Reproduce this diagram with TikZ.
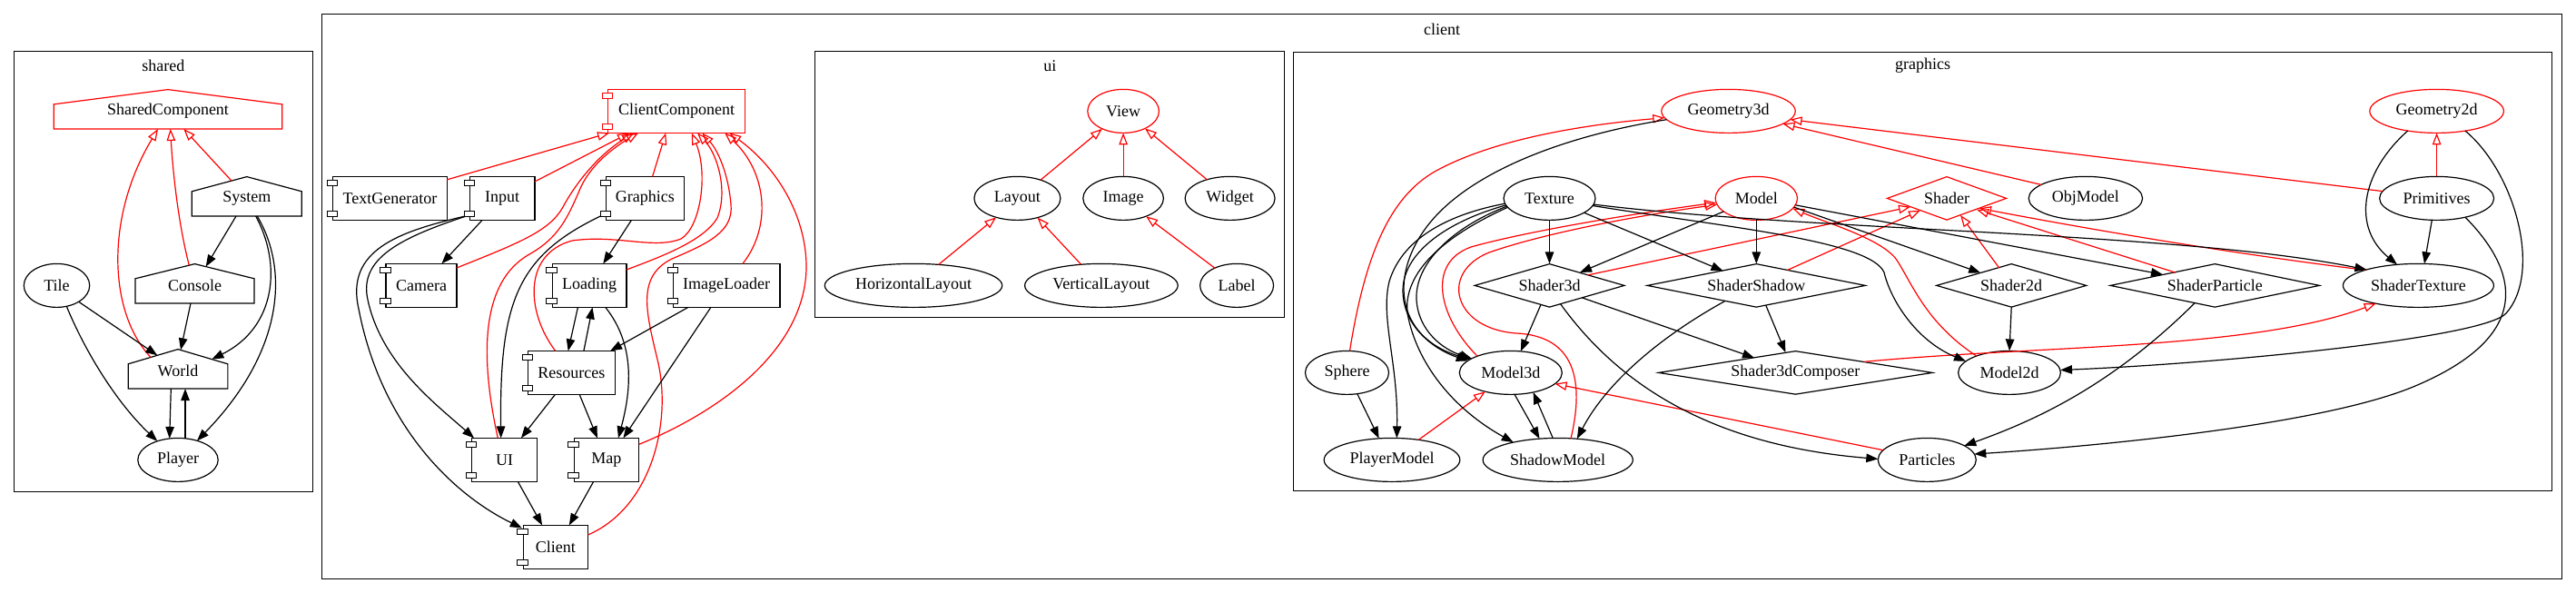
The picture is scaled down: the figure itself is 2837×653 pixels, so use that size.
\documentclass[tikz,border=0pt]{standalone}
\usepackage{fontspec}
\setmainfont{Liberation Serif}
\usetikzlibrary{shapes.geometric,arrows.meta,calc}
\newcommand\comptabs[2][black]{%
  \draw[#1,fill=white,line width=1pt] ([xshift=-5.7pt,yshift=-5pt]#2.north west) rectangle ([xshift=5.7pt,yshift=-10.8pt]#2.north west);%
  \draw[#1,fill=white,line width=1pt] ([xshift=-5.7pt,yshift=5pt]#2.south west) rectangle ([xshift=5.7pt,yshift=10.8pt]#2.south west);}
\newcommand\housedraw[3][black]{%
  \draw[#1,line width=1.2pt] ([xshift=-#3,yshift=-19.6pt]#2.center) -- ([xshift=#3,yshift=-19.6pt]#2.center) -- ([xshift=#3,yshift=7.6pt]#2.center) -- ([yshift=23.8pt]#2.center) -- ([xshift=-#3,yshift=7.6pt]#2.center) -- cycle;}
\begin{document}
\begin{tikzpicture}[x=1pt,y=-1pt,font=\fontsize{18pt}{21pt}\selectfont,
  el/.style={draw,ellipse,line width=1.2pt,inner sep=0pt,minimum height=48pt},
  dia/.style={draw,diamond,line width=1.2pt,inner sep=0pt,minimum height=48pt},
  comp/.style={draw,rectangle,line width=1.2pt,inner sep=0pt,minimum height=48pt},
  hs/.style={inner sep=0pt},
  clus/.style={draw,line width=1.1pt},
  edge/.style={draw=black,line width=1.2pt,-{Triangle[length=13pt,width=9.5pt]}},
  inh/.style={draw=red,line width=1.2pt,-{Triangle[open,length=13pt,width=9.5pt]}}]
\useasboundingbox (0,0) rectangle (2837,653);
% clusters
\draw[clus] (15.5,56.5) rectangle (344.5,541.5);
\node (lshared) at (179.9,72.5) {shared};
\draw[clus] (354.5,15.5) rectangle (2821.5,637.5);
\node (lclient) at (1588,32) {client};
\draw[clus] (897.5,56.5) rectangle (1414.5,349.5);
\node (lui) at (1156.3,72.5) {ui};
\draw[clus] (1424.5,57.5) rectangle (2810.5,540.5);
\node (lgraphics) at (2117.6,72.5) {graphics};

% ---------------- shared
\node[hs] (sc) at (185,122.4) {SharedComponent};
\housedraw[red]{sc}{125.7pt}
\node[hs] (sys) at (271.8,218.4) {System};
\housedraw{sys}{60.5pt}
\node[hs] (con) at (214.5,314.4) {Console};
\housedraw{con}{65.5pt}
\node[hs] (world) at (196,408.4) {World};
\housedraw{world}{54.85pt}
\node[el,minimum width=72.4pt] (tile) at (62.5,314.4) {Tile};
\node[el,minimum width=88.4pt] (player) at (196,506.4) {Player};

\draw[inh] ($(con.center)+(-6.2,-22.3)$) .. controls (196,245) and (190,185) .. ($(sc.center)+(2.7,19.6)$);
\draw[inh] ($(sys.center)+(-16.8,-19.3)$) -- ($(sc.center)+(17.3,19.6)$);
\draw[inh] ($(world.center)+(-30,-15)$) .. controls (120,345) and (115,240) .. ($(sc.center)+(-11,19.6)$);
\draw[edge] ($(sys.center)+(-11.8,19.6)$) -- ($(con.center)+(12.2,-20.8)$);
\draw[edge] ($(sys.center)+(9.9,19.6)$) .. controls (310,290) and (305,360) .. ($(world.center)+(37.3,-12.8)$);
\draw[edge] ($(sys.center)+(11.5,19.6)$) .. controls (320,300) and (310,390) .. ($(player.center)+(21,-21)$);
\draw[edge] ($(con.center)+(-4.5,19.6)$) -- ($(world.center)+(3,-23)$);
\draw[edge] ($(tile.center)+(24.2,17.9)$) -- ($(world.center)+(-22.7,-17.1)$);
\draw[edge] ($(tile.center)+(10.8,22.9)$) .. controls (95,390) and (130,445) .. ($(player.center)+(-22.7,-20.6)$);
\draw[edge] ($(world.center)+(-7.7,19.6)$) -- ($(player.center)+(-9.3,-23.5)$);
\draw[edge] ($(player.center)+(8,-23.6)$) -- ($(world.center)+(8,19.6)$);

% ---------------- client
\node[comp,draw=red,minimum width=150.8pt] (cc) at (745,122.4) {ClientComponent};
\node[comp,minimum width=125.3pt] (tg) at (429.5,218.4) {TextGenerator};
\node[comp,minimum width=71.4pt] (input) at (553.2,218.4) {Input};
\node[comp,minimum width=86.1pt] (graphics) at (710.4,218.4) {Graphics};
\node[comp,minimum width=77.9pt] (camera) at (464,314.4) {Camera};
\node[comp,minimum width=81.8pt] (loading) at (649.1,314.4) {Loading};
\node[comp,minimum width=117.5pt] (imageloader) at (800.2,314.4) {ImageLoader};
\node[comp,minimum width=95.7pt] (resources) at (629.3,410.4) {Resources};
\node[comp,minimum width=72.2pt] (ui) at (555.7,506.4) {UI};
\node[comp,minimum width=71.5pt] (map) at (667.9,506.4) {Map};
\node[comp,minimum width=71.4pt] (client) at (611.8,602.4) {Client};

\draw[inh] ($(tg.center)+(62.6,-20.5)$) -- ($(cc.center)+(-74,24)$);
\draw[inh] ($(input.center)+(35.7,-18.4)$) -- ($(cc.center)+(-52,24)$);
\draw[inh] ($(camera.center)+(39,-19.4)$) .. controls (570,268) and (605,255) .. (620,228) .. controls (635,200) and (660,170) .. ($(cc.center)+(-47,24)$);
\draw[inh] ($(ui.center)+(-7.4,-24)$) .. controls (528,390) and (530,310) .. (583,280) .. controls (615,262) and (625,240) .. (638,210) .. controls (650,180) and (680,160) .. ($(cc.center)+(-42,24)$);
\draw[inh] ($(graphics.center)+(8.2,-24)$) -- ($(cc.center)+(-11.7,24)$);
\draw[inh] ($(loading.center)+(40.9,-17.4)$) .. controls (730,282) and (775,265) .. (790,240) .. controls (802,210) and (790,170) .. ($(cc.center)+(23,24)$);
\draw[inh] ($(resources.center)+(-17.6,-24)$) .. controls (580,345) and (575,280) .. (630,265) .. controls (680,258) and (720,275) .. (750,263) .. controls (772,250) and (780,190) .. ($(cc.center)+(16.7,24)$);
\draw[inh] ($(client.center)+(35.7,-13.4)$) .. controls (715,560) and (740,470) .. (725,400) .. controls (712,345) and (700,305) .. (740,285) .. controls (780,268) and (808,255) .. (805,225) .. controls (802,190) and (790,165) .. ($(cc.center)+(28.3,24)$);
\draw[inh] ($(imageloader.center)+(17.7,-24)$) .. controls (850,250) and (845,190) .. ($(cc.center)+(53.3,24)$);
\draw[inh] ($(map.center)+(35.7,-17)$) .. controls (800,450) and (890,380) .. (888,290) .. controls (886,230) and (850,180) .. ($(cc.center)+(58.3,24)$);

\draw[edge] ($(input.center)+(-22.1,24)$) -- ($(camera.center)+(22.4,-24)$);
\draw[edge] ($(input.center)+(-38,19)$) .. controls (440,262) and (395,285) .. (405,330) .. controls (420,400) and (480,445) .. ($(ui.center)+(-33.6,-24)$);
\draw[edge] ($(input.center)+(-41.8,19.8)$) .. controls (440,255) and (380,275) .. (395,340) .. controls (420,470) and (500,545) .. ($(client.center)+(-37,-21)$);
\draw[edge] ($(graphics.center)+(-15,24)$) -- ($(loading.center)+(15.2,-24)$);
\draw[edge] ($(graphics.center)+(-42.7,16.6)$) .. controls (570,280) and (550,330) .. ($(ui.center)+(-4,-24)$);
\draw[edge] ($(loading.center)+(-12.7,24)$) -- ($(resources.center)+(-3.6,-24)$);
\draw[edge] ($(resources.center)+(13.6,-24)$) -- ($(loading.center)+(3.4,24)$);
\draw[edge] ($(loading.center)+(17.7,24)$) .. controls (700,380) and (695,430) .. ($(map.center)+(13.1,-24)$);
\draw[edge] ($(imageloader.center)+(-42.3,24)$) -- ($(resources.center)+(42.8,-24)$);
\draw[edge] ($(imageloader.center)+(-17.3,24)$) -- ($(map.center)+(18.5,-24)$);
\draw[edge] ($(resources.center)+(-17.9,24)$) -- ($(ui.center)+(18.2,-24)$);
\draw[edge] ($(resources.center)+(8.9,24)$) -- ($(map.center)+(-10,-24)$);
\draw[edge] ($(ui.center)+(14.7,24)$) -- ($(client.center)+(-14.7,-24)$);
\draw[edge] ($(map.center)+(-14.3,24)$) -- ($(client.center)+(15,-24)$);

\comptabs[red]{cc}
\comptabs{tg}
\comptabs{input}
\comptabs{graphics}
\comptabs{camera}
\comptabs{loading}
\comptabs{imageloader}
\comptabs{resources}
\comptabs{ui}
\comptabs{map}
\comptabs{client}

% ---------------- ui
\node[el,draw=red,minimum width=78.6pt] (view) at (1237.1,122.4) {View};
\node[el,minimum width=95pt] (layout) at (1120.4,218.4) {Layout};
\node[el,minimum width=88.6pt] (image) at (1237.1,218.4) {Image};
\node[el,minimum width=99pt] (widget) at (1354.6,218.4) {Widget};
\node[el,minimum width=195.4pt] (hlayout) at (1006,314.4) {HorizontalLayout};
\node[el,minimum width=168.6pt] (vlayout) at (1212.9,314.4) {VerticalLayout};
\node[el,minimum width=81pt] (label) at (1362.1,314.4) {Label};

\draw[inh] ($(layout.center)+(25.6,-20.2)$) -- ($(view.center)+(-23.2,19.4)$);
\draw[inh] ($(image.center)+(0,-24)$) -- ($(view.center)+(0,24)$);
\draw[inh] ($(widget.center)+(-25.3,-20.6)$) -- ($(view.center)+(23.9,19)$);
\draw[inh] ($(hlayout.center)+(27.6,-23)$) -- ($(layout.center)+(-23.3,20.9)$);
\draw[inh] ($(vlayout.center)+(-22.2,-23.1)$) -- ($(layout.center)+(22.1,21.2)$);
\draw[inh] ($(label.center)+(-24.2,-19.2)$) -- ($(image.center)+(25,19.8)$);

% ---------------- graphics
\node[el,draw=red,minimum width=147.4pt] (geo3d) at (1903.5,122.4) {Geometry3d};
\node[el,minimum width=101pt] (texture) at (1706.5,218.4) {Texture};
\node[el,draw=red,minimum width=90.4pt] (model) at (1934.3,218.4) {Model};
\node[dia,draw=red,minimum width=131.6pt,aspect=2.74] (shader) at (2144,218.4) {Shader};
\node[el,minimum width=125.4pt] (objmodel) at (2296.9,218.4) {ObjModel};
\node[el,draw=red,minimum width=147.6pt] (geo2d) at (2683.6,122.4) {Geometry2d};
\node[el,minimum width=126pt] (primitives) at (2683.6,218.4) {Primitives};
\node[dia,minimum width=165.2pt,aspect=3.44] (shader3d) at (1706.5,314.4) {Shader3d};
\node[dia,minimum width=240.6pt,aspect=5.01] (shadershadow) at (1934.3,314.4) {ShaderShadow};
\node[dia,minimum width=165.4pt,aspect=3.45] (shader2d) at (2215.2,314.4) {Shader2d};
\node[dia,minimum width=230.8pt,aspect=4.81] (shaderparticle) at (2439.3,314.4) {ShaderParticle};
\node[el,minimum width=166pt] (shadertexture) at (2663.4,314.4) {ShaderTexture};
\node[el,minimum width=92pt] (sphere) at (1483.5,410.4) {Sphere};
\node[el,minimum width=113pt] (model3d) at (1663.8,410.4) {Model3d};
\node[dia,minimum width=302pt,aspect=6.29] (s3dcomp) at (1977.4,410.4) {Shader3dComposer};
\node[el,minimum width=112.8pt] (model2d) at (2213,410.4) {Model2d};
\node[el,minimum width=149.6pt] (playermodel) at (1533,506.4) {PlayerModel};
\node[el,minimum width=165.2pt] (shadowmodel) at (1715.7,506.4) {ShadowModel};
\node[el,minimum width=108pt] (particles) at (2122.3,506.4) {Particles};

\draw[inh] ($(sphere.center)+(3,-24)$) .. controls (1505,270) and (1535,215) .. (1580,189) .. controls (1650,150) and (1760,136) .. ($(geo3d.center)+(-70.2,7.3)$);
\draw[inh] ($(objmodel.center)+(-48.9,-15)$) -- ($(geo3d.center)+(60,14)$);
\draw[inh] ($(primitives.center)+(-59.6,-7.8)$) -- ($(geo3d.center)+(68,9.3)$);
\draw[inh] ($(playermodel.center)+(29.3,-22.1)$) -- ($(model3d.center)+(-28,20.8)$);
\draw[inh] ($(particles.center)+(-48.3,-10.7)$) -- ($(model3d.center)+(48.7,12.2)$);
\draw[inh] ($(model3d.center)+(-36.8,-18.2)$) .. controls (1585,350) and (1570,290) .. (1620,272) .. controls (1680,255) and (1800,235) .. ($(model.center)+(-44.3,4.8)$);
\draw[inh] ($(shadowmodel.center)+(14.3,-23.6)$) .. controls (1745,420) and (1735,370) .. (1670,367) .. controls (1600,362) and (1585,300) .. (1640,278) .. controls (1700,257) and (1800,238) .. ($(model.center)+(-43.3,6.9)$);
\draw[inh] ($(shader3d.center)+(42,-11.5)$) -- ($(shader.center)+(-40,9.4)$);
\draw[inh] ($(shadershadow.center)+(34,-16.9)$) -- ($(shader.center)+(-29,13.3)$);
\draw[inh] ($(shader2d.center)+(-13.5,-19.4)$) -- ($(shader.center)+(15,18.5)$);
\draw[inh] ($(shaderparticle.center)+(-43.2,-14.2)$) -- ($(shader.center)+(33,12.5)$);
\draw[inh] ($(shadertexture.center)+(-58,-17)$) .. controls (2480,282) and (2330,258) .. ($(shader.center)+(36,11)$);
\draw[inh] ($(model2d.center)+(-36.3,-18.4)$) .. controls (2120,355) and (2105,310) .. (2088,285) .. controls (2070,262) and (2010,245) .. ($(model.center)+(40,11)$);
\draw[inh] ($(s3dcomp.center)+(75.9,-12.1)$) .. controls (2250,380) and (2480,385) .. ($(shadertexture.center)+(-46.7,19.8)$);
\draw[inh] ($(primitives.center)+(0,-24)$) -- ($(geo2d.center)+(0,24)$);

\draw[edge] ($(geo3d.center)+(-68,9.3)$) .. controls (1720,150) and (1620,190) .. (1575,245) .. controls (1530,300) and (1535,370) .. ($(model3d.center)+(-45,-14.5)$);
\draw[edge] ($(texture.center)+(-49,5.8)$) .. controls (1600,235) and (1545,260) .. (1530,310) .. controls (1520,350) and (1540,400) .. ($(playermodel.center)+(5.3,-24)$);
\draw[edge] ($(texture.center)+(-48,7.5)$) .. controls (1590,245) and (1545,280) .. (1545,320) .. controls (1545,360) and (1580,385) .. ($(model3d.center)+(-47,-13)$);
\draw[edge] ($(texture.center)+(-47,8.8)$) .. controls (1600,250) and (1558,290) .. (1560,330) .. controls (1562,365) and (1590,385) .. ($(model3d.center)+(-43,-15.6)$);
\draw[edge] ($(texture.center)+(-46,9.9)$) .. controls (1590,260) and (1545,300) .. (1550,345) .. controls (1560,400) and (1600,450) .. ($(shadowmodel.center)+(-49,-19.3)$);
\draw[edge] ($(texture.center)+(0,24)$) -- ($(shader3d.center)+(0,-24)$);
\draw[edge] ($(texture.center)+(38,15.8)$) -- ($(shadershadow.center)+(-36.8,-16.1)$);
\draw[edge] ($(texture.center)+(48.5,6.7)$) .. controls (2000,255) and (2400,255) .. ($(shadertexture.center)+(-57,-17.4)$);
\draw[edge] ($(texture.center)+(47.5,8.1)$) .. controls (1900,250) and (2060,265) .. (2075,300) .. controls (2082,330) and (2110,375) .. ($(model2d.center)+(-48,-12.6)$);
\draw[edge] ($(model.center)+(-36,14.5)$) -- ($(shader3d.center)+(33.5,-14.4)$);
\draw[edge] ($(model.center)+(0,24)$) -- ($(shadershadow.center)+(0,-24)$);
\draw[edge] ($(model.center)+(41.3,9.7)$) -- ($(shader2d.center)+(-34,-14)$);
\draw[edge] ($(model.center)+(43,7.4)$) -- ($(shaderparticle.center)+(-57.3,-12.1)$);
\draw[edge] ($(shader3d.center)+(-9.6,21.2)$) -- ($(model3d.center)+(11,-23.5)$);
\draw[edge] ($(shader3d.center)+(36,13.5)$) -- ($(s3dcomp.center)+(-45.4,-16.4)$);
\draw[edge] ($(shader3d.center)+(12,20.2)$) .. controls (1780,420) and (1880,490) .. ($(particles.center)+(-54,-1)$);
\draw[edge] ($(shadershadow.center)+(10.5,21.9)$) -- ($(s3dcomp.center)+(-11,-22.3)$);
\draw[edge] ($(shadershadow.center)+(-34.5,17.1)$) .. controls (1830,370) and (1770,420) .. ($(shadowmodel.center)+(21.1,-23.2)$);
\draw[edge] ($(shader2d.center)+(0,24)$) -- ($(model2d.center)+(0,-24)$);
\draw[edge] ($(shaderparticle.center)+(-22.3,19.4)$) .. controls (2330,420) and (2250,460) .. ($(particles.center)+(41,-15.6)$);
\draw[edge] ($(primitives.center)+(31.4,20.8)$) .. controls (2775,300) and (2790,370) .. (2660,425) .. controls (2556,469) and (2300,492) .. ($(particles.center)+(52,-6.4)$);
\draw[edge] ($(primitives.center)+(-5.3,24)$) -- ($(shadertexture.center)+(6.6,-24)$);
\draw[edge] ($(geo2d.center)+(-31.9,21.6)$) .. controls (2600,190) and (2590,250) .. ($(shadertexture.center)+(-23.4,-23)$);
\draw[edge] ($(geo2d.center)+(31.4,21.7)$) .. controls (2770,190) and (2800,300) .. (2760,345) .. controls (2736,372) and (2450,400) .. ($(model2d.center)+(56,-2.9)$);
\draw[edge] ($(sphere.center)+(11.3,23.3)$) -- ($(playermodel.center)+(-14.3,-23.6)$);
\draw[edge] ($(model3d.center)+(4.2,23.9)$) -- ($(shadowmodel.center)+(-20.2,-23.3)$);
\draw[edge] ($(shadowmodel.center)+(-5.5,-24)$) -- ($(model3d.center)+(24.8,21.6)$);
\end{tikzpicture}
\end{document}
